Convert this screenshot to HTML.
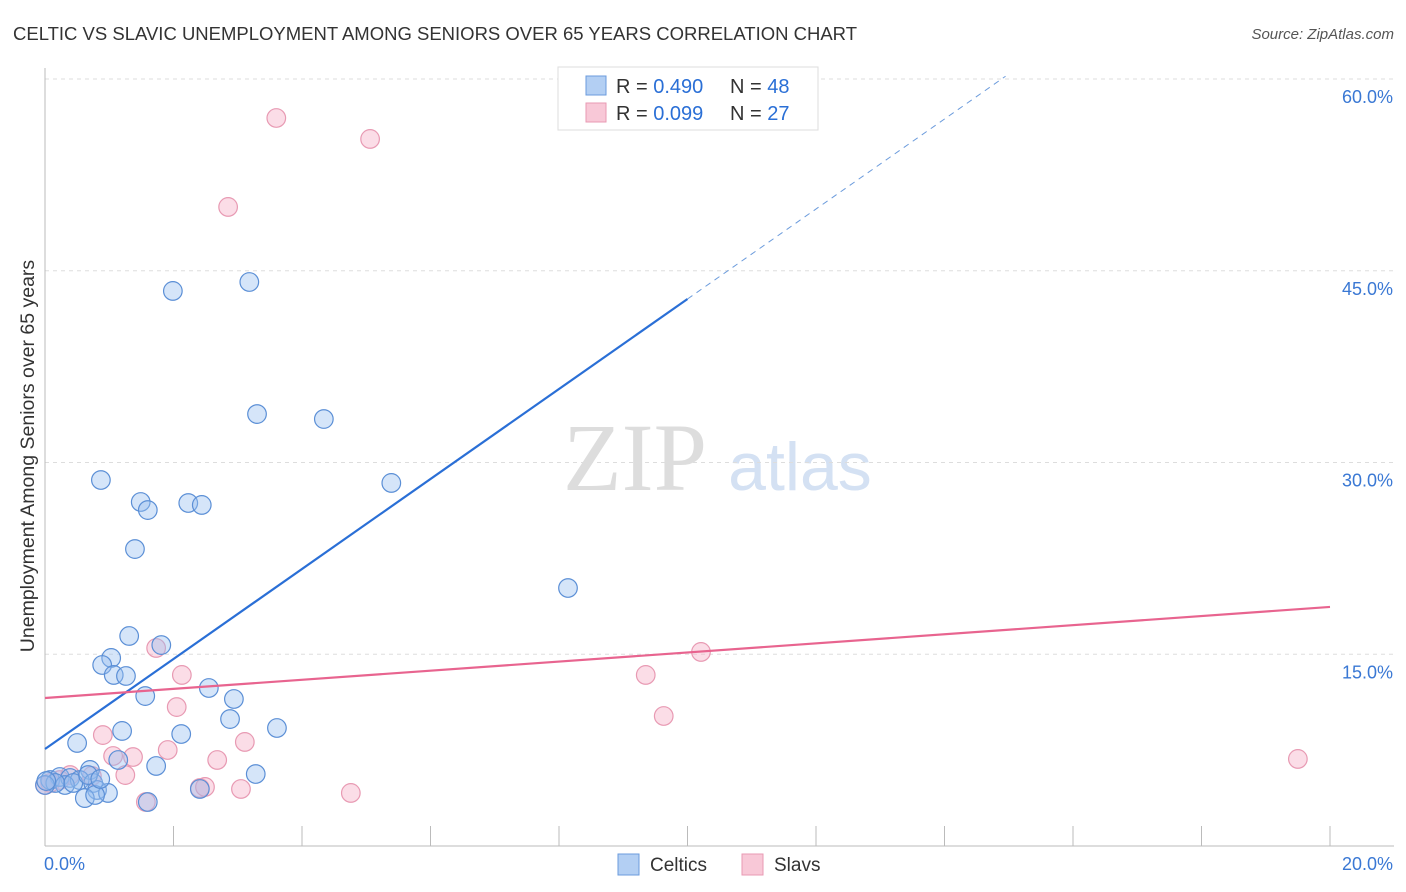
<!DOCTYPE html>
<html><head><meta charset="utf-8"><style>
body{margin:0;background:#fff;font-family:"Liberation Sans",sans-serif;}
svg{display:block}
</style></head><body>
<svg width="1406" height="892" id="chart">
<text x="13" y="40" font-size="18.5" fill="#333">CELTIC VS SLAVIC UNEMPLOYMENT AMONG SENIORS OVER 65 YEARS CORRELATION CHART</text>
<text x="1394" y="39" font-size="15" fill="#555" font-style="italic" text-anchor="end">Source: ZipAtlas.com</text>
<text x="34" y="456" font-size="19.5" fill="#333" text-anchor="middle" transform="rotate(-90 34 456)">Unemployment Among Seniors over 65 years</text>
<text x="635" y="490" font-size="96" fill="#ddd" font-family="Liberation Serif,serif" text-anchor="middle">ZIP</text>
<text x="800" y="490" font-size="68" fill="#d4e1f3" text-anchor="middle">atlas</text>
<g id="grid"></g>
<g id="marks"></g>
<g>
<rect x="558" y="67" width="260" height="63" fill="#fff" stroke="#ddd"/>
<rect x="586" y="76" width="20" height="19" fill="#b3cff3" stroke="#6b9bdc"/>
<rect x="586" y="103" width="20" height="19" fill="#f8c8d7" stroke="#e89ab3"/>
<text x="616" y="93" font-size="20" fill="#333">R = <tspan fill="#2a6fd6">0.490</tspan><tspan x="730">N = </tspan><tspan fill="#2a6fd6">48</tspan></text>
<text x="616" y="120" font-size="20" fill="#333">R = <tspan fill="#2a6fd6">0.099</tspan><tspan x="730">N = </tspan><tspan fill="#2a6fd6">27</tspan></text>
</g>
<g>
<rect x="618" y="854" width="21" height="21" fill="#b3cff3" stroke="#6b9bdc"/>
<text x="650" y="871" font-size="19" fill="#333">Celtics</text>
<rect x="742" y="854" width="21" height="21" fill="#f8c8d7" stroke="#e89ab3"/>
<text x="774" y="871" font-size="19" fill="#333">Slavs</text>
</g>
</svg>
<script>
const xTicks=[0,20];
const yTicks=[15,30,45,60];
const celticsX=[1.99,3.18,3.30,4.34,0.87,5.39,1.49,2.23,2.44,1.60,1.40,8.14,1.31,1.81,1.03,0.89,1.07,1.26,2.55,1.56,2.94,2.88,1.20,2.12,3.61,0.50,1.14,1.73,3.28,0.70,0.08,0.23,0.39,0.54,0.75,0.81,0.98,0.62,0.78,0.31,0.16,0.00,2.41,1.60,0.44,0.67,0.86,0.02];
const celticsY=[43.42,44.12,33.79,33.40,28.63,28.40,26.91,26.83,26.68,26.28,23.23,20.18,16.43,15.72,14.71,14.16,13.38,13.30,12.36,11.73,11.50,9.93,9.00,8.76,9.23,8.06,6.73,6.26,5.63,5.95,5.16,5.40,5.32,5.16,4.93,4.38,4.15,3.75,3.99,4.77,4.93,4.77,4.46,3.44,4.93,5.55,5.24,5.08];
const slavsX=[3.60,5.06,2.85,1.73,2.13,10.21,9.35,2.05,9.63,0.90,3.11,1.91,1.37,2.68,1.06,1.25,0.73,0.39,2.41,2.49,3.05,4.76,1.57,19.50,0.08,0.23,0.00];
const slavsY=[56.95,55.31,49.99,15.49,13.38,15.18,13.38,10.87,10.17,8.68,8.14,7.51,6.96,6.73,7.04,5.55,5.48,5.55,4.54,4.62,4.46,4.15,3.44,6.81,4.93,5.16,4.77];
const celticsLine=[7.59,42.79];
const celticsLineExt=[14.95];
const slavsLine=[11.58,18.70];
const NS="http://www.w3.org/2000/svg";
const sx=v=>45+v/20*1285;
const sy=v=>846-v/60*767;
function mk(tag,attrs,parent){const e=document.createElementNS(NS,tag);for(const k in attrs)e.setAttribute(k,attrs[k]);parent.appendChild(e);return e;}
const grid=document.getElementById('grid'),marks=document.getElementById('marks');
yTicks.forEach(t=>{
 const l=mk('line',{x1:45,x2:1394,y1:sy(t),y2:sy(t),stroke:'#ddd','stroke-dasharray':'4,4'},grid);
 
 
 const tx=mk('text',{x:1393,y:sy(t)+24,'font-size':18,fill:'#3a78d4','text-anchor':'end'},grid);
 tx.textContent=t.toFixed(1)+'%';
 
 
});
mk('line',{x1:45,x2:45,y1:68,y2:846,stroke:'#bbb'},grid);
mk('line',{x1:45,x2:1394,y1:846,y2:846,stroke:'#bbb'},grid);
for(let i=1;i<=10;i++){const t=mk('line',{x1:sx(i*2),x2:sx(i*2),y1:826,y2:846,stroke:'#bbb'},grid);
 
 }
xTicks.forEach((t,i)=>{const tx=mk('text',{x:i==0?44:1393,y:870,'font-size':18,fill:'#3a78d4','text-anchor':i==0?'start':'end'},grid);
 tx.textContent=t.toFixed(1)+'%';
 
 });
slavsX.forEach((x,i)=>{const c=mk('circle',{cx:sx(x),cy:sy(slavsY[i]),r:9.3,fill:'rgba(245,170,195,0.4)',stroke:'#e89ab3','stroke-width':1.2},marks);
 
 });
celticsX.forEach((x,i)=>{const c=mk('circle',{cx:sx(x),cy:sy(celticsY[i]),r:9.3,fill:'rgba(150,190,240,0.4)',stroke:'#5b8fd6','stroke-width':1.2},marks);
 
 });
const slope=(celticsLine[1]-celticsLine[0])/10;
const bl=mk('line',{x1:sx(0),y1:sy(celticsLine[0]),x2:sx(10),y2:sy(celticsLine[1]),stroke:'#2a6fd6','stroke-width':2.2},marks);


const bd=mk('line',{x1:sx(10),y1:sy(celticsLine[1]),x2:sx(celticsLineExt[0]),y2:sy(celticsLine[0]+slope*celticsLineExt[0]),stroke:'#6b9bdc','stroke-width':1,'stroke-dasharray':'6,5'},marks);


const pl=mk('line',{x1:sx(0),y1:sy(slavsLine[0]),x2:sx(20),y2:sy(slavsLine[1]),stroke:'#e8648f','stroke-width':2.2},marks);


</script>
</body></html>
